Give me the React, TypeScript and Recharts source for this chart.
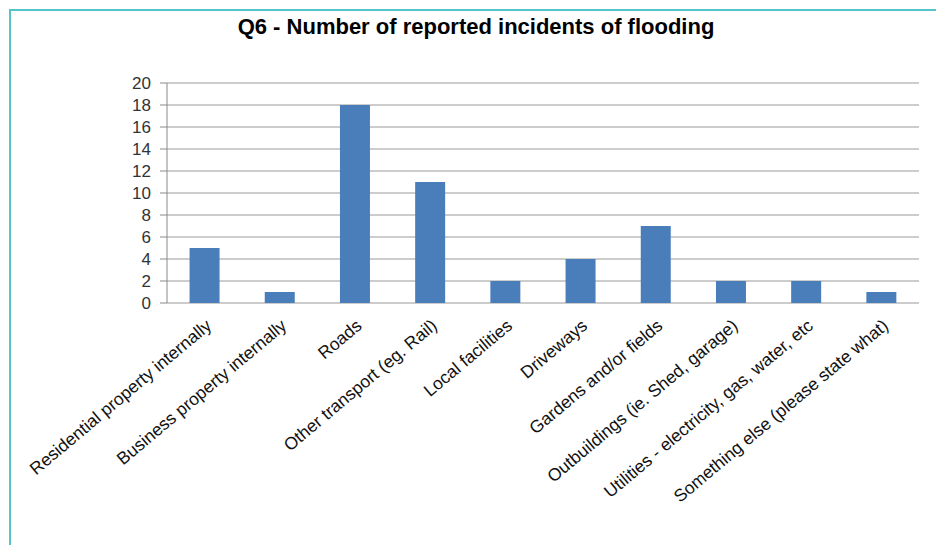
import { BarChart, Bar, XAxis, YAxis, CartesianGrid } from "recharts";

const categories = [
  "Residential property internally",
  "Business property internally",
  "Roads",
  "Other transport (eg. Rail)",
  "Local facilities",
  "Driveways",
  "Gardens and/or fields",
  "Outbuildings (ie. Shed, garage)",
  "Utilities - electricity, gas, water, etc",
  "Something else (please state what)",
];
const incidents = [5, 1, 18, 11, 2, 4, 7, 2, 2, 1];
const yTicks = [0, 2, 4, 6, 8, 10, 12, 14, 16, 18, 20];
const boundaryTicks = [0, 1, 2, 3, 4, 5, 6, 7, 8, 9, 10];

const data = categories.map((name, i) => ({ name, value: incidents[i] }));

const FONT = "'Liberation Sans', Arial, sans-serif";

export default function App() {
  return (
    <div
      style={{
        position: "absolute",
        left: 0,
        top: 0,
        width: 936,
        height: 545,
        overflow: "hidden",
        background: "#fff",
        fontFamily: FONT,
      }}
    >
      <div
        style={{
          position: "absolute",
          left: 9,
          top: 9,
          width: 960,
          height: 600,
          borderTop: "2px solid #55c4c8",
          borderLeft: "2px solid #55c4c8",
        }}
      />
      <div
        style={{
          position: "absolute",
          left: 0,
          top: 14,
          width: 952,
          textAlign: "center",
          fontSize: 22,
          fontWeight: "bold",
          color: "#000",
        }}
      >
        Q6 - Number of reported incidents of flooding
      </div>
      <div style={{ position: "absolute", left: 0, top: 0 }}>
        <BarChart
          width={936}
          height={545}
          data={data}
          margin={{ top: 83, right: 17, left: 0, bottom: 0 }}
          barCategoryGap="30%"
        >
          <CartesianGrid vertical={false} stroke="#9a9a9a" strokeWidth={1} />
          <XAxis
            xAxisId="edges"
            type="number"
            domain={[0, 10]}
            ticks={boundaryTicks}
            interval={0}
            allowDataOverflow
            height={0}
            tickSize={6}
            tickFormatter={() => ""}
            tickLine={{ stroke: "#7a7a7a" }}
            axisLine={{ stroke: "#8a8a8a" }}
          />
          <XAxis
            dataKey="name"
            interval={0}
            height={242}
            angle={-40}
            textAnchor="end"
            axisLine={false}
            tickLine={false}
            tickSize={6}
            tickMargin={9}
            tick={{ fontSize: 17.5, fill: "#111", fontFamily: FONT }}
          />
          <YAxis
            domain={[0, 20]}
            ticks={yTicks}
            interval={0}
            width={167}
            tickSize={7}
            tickMargin={9}
            stroke="#8a8a8a"
            tick={{ fontSize: 17, fill: "#333", fontFamily: FONT }}
          />
          <Bar dataKey="value" fill="#4a7ebb" isAnimationActive={false} />
        </BarChart>
      </div>
    </div>
  );
}
